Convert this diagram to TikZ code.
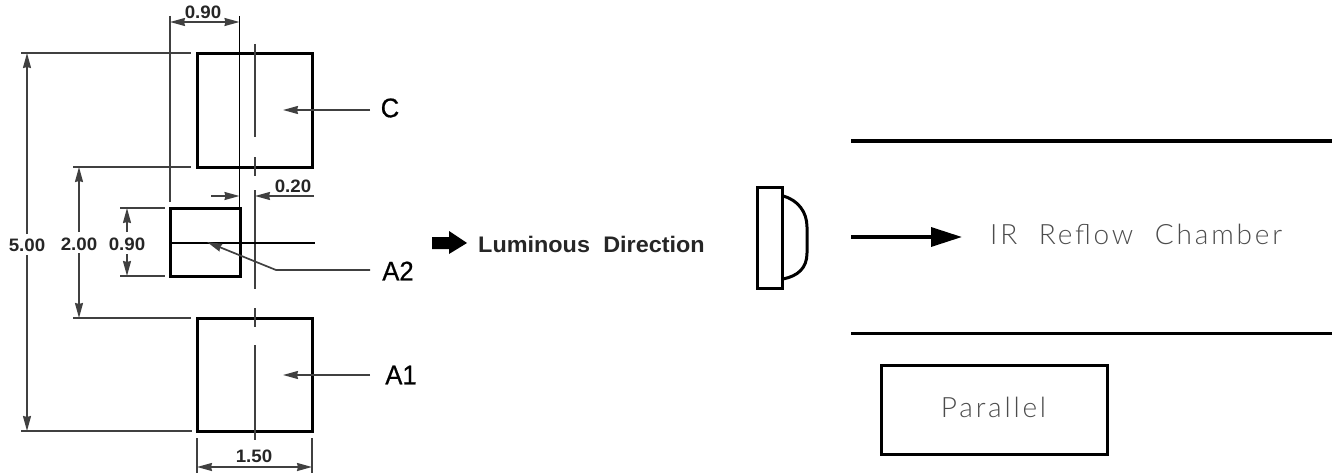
\documentclass[tikz,border=0pt]{standalone}
\usepackage{fontspec}
\setmainfont{Liberation Sans}
\newfontfamily\dimfont[FakeStretch=1.04]{Liberation Sans Bold}
\newfontfamily\labfont[FakeBold=0.6,FakeStretch=0.95]{Liberation Sans}
\newfontfamily\thinfont[LetterSpace=10]{Lato Light}
\usetikzlibrary{arrows.meta}
\tikzset{
  dimline/.style={line width=1.7pt,color=black!75},
  extline/.style={line width=1.7pt,color=black!75},
  dimarrow/.style={dimline,-{Stealth[length=15pt,width=8pt,inset=1pt]}},
  bothdim/.style={dimline,{Stealth[length=15pt,width=8pt,inset=1pt]}-{Stealth[length=15pt,width=8pt,inset=1pt]}},
  part/.style={draw=black,line width=3pt,inner sep=0pt,outer sep=0pt,anchor=north west},
  dimtext/.style={font=\dimfont\fontsize{18}{20}\selectfont,text=black!85,inner sep=0pt},
  labtext/.style={font=\labfont\fontsize{27}{30}\selectfont,text=black,inner sep=0pt},
  thintext/.style={font=\thinfont\fontsize{28}{30}\selectfont,text=black!70,inner sep=0pt},
  wall/.style={line width=3.6pt,color=black}
}
\begin{document}
\begin{tikzpicture}[x=1pt,y=-1pt]
\useasboundingbox (0,0) rectangle (1338,476);
% parts
\node[part,minimum width=115pt,minimum height=114pt] (C) at (197,53.5) {};
\node[part,minimum width=115pt,minimum height=113pt] (A1) at (197,318.5) {};
\node[part,minimum width=70pt,minimum height=68pt] (A2) at (170,208.5) {};
% centre line
\foreach \a/\b in {44/137,157/176,190/289,308/327,345/440}
  \draw[extline] (255,\a) -- (255,\b);
% horizontal through A2
\coordinate (hl) at (315,243);
\draw[line width=1.5pt] (170,243) -- (hl);
% extension lines
\coordinate (e1a) at (170,16); \coordinate (e1b) at (170,202);
\coordinate (e2a) at (239.5,16); \coordinate (e2b) at (239.5,208);
\draw[extline] (e1a) -- (e1b);
\draw[line width=1.5pt] (e2a) -- (e2b);
\foreach \n/\xa/\xb/\y in {a/21/191/53,b/21/192/431,c/73/191/167,d/73/191/318,e/120/165/208,f/120/165/276}
  \draw[extline] (\xa,\y) -- (\xb,\y);
\draw[extline] (197,438) -- (197,473);
\draw[extline] (312,438) -- (312,473);
% dimensions
\node[dimtext] (d90t) at (203,12) {0.90};
\coordinate (d90l) at (170,22); \coordinate (d90r) at (239.5,22);
\draw[bothdim] (d90l) -- (d90r);
\node[dimtext] (d500) at (27,245) {5.00};
\node[dimtext] (d200) at (79,244) {2.00};
\node[dimtext] (d90s) at (127,244) {0.90};
\coordinate (d5t) at (27,53); \coordinate (d5b) at (27,431);
\coordinate (d2t) at (79,167); \coordinate (d2b) at (79,318);
\coordinate (d9t) at (127,208); \coordinate (d9b) at (127,276);
\draw[dimarrow] (d500.north |- 0,234) -- (d5t);
\draw[dimarrow] (d500.south |- 0,255) -- (d5b);
\draw[dimarrow] (d200.north |- 0,232) -- (d2t);
\draw[dimarrow] (d200.south |- 0,253) -- (d2b);
\draw[dimarrow] (d90s.north |- 0,232) -- (d9t);
\draw[dimarrow] (d90s.south |- 0,254) -- (d9b);
\node[dimtext] (d20) at (293,186) {0.20};
\coordinate (d20a) at (211,196); \coordinate (d20b) at (239.5,196);
\coordinate (d20c) at (314,196); \coordinate (d20d) at (255,196);
\draw[dimarrow] (d20a) -- (d20b);
\draw[dimarrow] (d20c) -- (d20d);
\node[dimtext] (d150) at (254,456) {1.50};
\coordinate (d15l) at (197,467); \coordinate (d15r) at (312,467);
\draw[bothdim] (d15l) -- (d15r);
% labels and leaders
\node[labtext] (lC) at (390,108) {C};
\node[labtext] (lA2) at (398,271) {A2};
\node[labtext] (lA1) at (401,375) {A1};
\coordinate (cS) at (370,110); \coordinate (cE) at (283,110);
\coordinate (a1S) at (370,375); \coordinate (a1E) at (283,375);
\coordinate (a2S) at (370,270); \coordinate (a2M) at (276,270); \coordinate (a2E) at (207,242);
\draw[dimarrow] (cS) -- (cE);
\draw[dimarrow] (a1S) -- (a1E);
\draw[dimarrow,line join=miter] (a2S) -- (a2M) -- (a2E);
% luminous direction
\fill[black] (432,237) -- (449,237) -- (449,231) -- (467,243) -- (449,254) -- (449,249) -- (432,249) -- cycle;
\node[font=\dimfont\fontsize{22.5}{24}\selectfont,text=black!85,inner sep=0pt,anchor=west] (lum) at (478,244) {Luminous\hspace{0.3em} Direction};
% lens
\node[part,minimum width=25pt,minimum height=101pt] (lens) at (757.5,187) {};
\coordinate (dt) at (783,196); \coordinate (db) at (783,279);
\draw[line width=3pt] (dt) .. controls (798,200) and (807,212) .. (807,227) -- (807,253) .. controls (807,268) and (798,276) .. (db);
% chamber
\coordinate (w1a) at (851,141); \coordinate (w1b) at (1332,141);
\coordinate (w2a) at (851,333.5); \coordinate (w2b) at (1332,333.5);
\draw[wall] (w1a) -- (w1b);
\draw[wall] (w2a) -- (w2b);
\coordinate (irS) at (851,237); \coordinate (irE) at (962,237);
\draw[line width=3.4pt,-{Triangle[length=31pt,width=19pt]}] (irS) -- (irE);
\node[thintext,anchor=west] (ir) at (990,234) {IR\hspace{0.4em} Reflow\hspace{0.4em} Chamber};
\node[part,minimum width=226pt,minimum height=89pt] (par) at (881.5,365) {};
\node[thintext] (ptxt) at (993.5,407) {Parallel};
\end{tikzpicture}
\end{document}
